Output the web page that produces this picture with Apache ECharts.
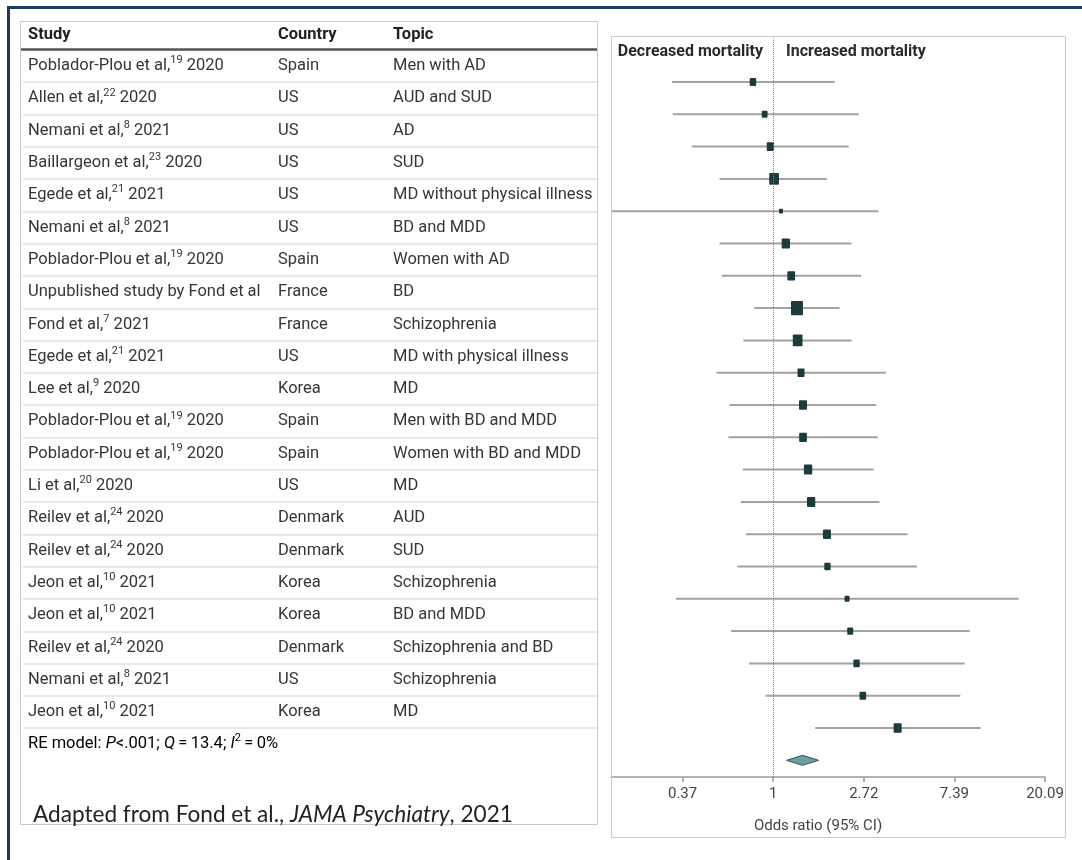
<!DOCTYPE html>
<html><head><meta charset="utf-8">
<script src="https://cdn.jsdelivr.net/npm/echarts@6/dist/echarts.min.js"></script>
<style>html,body{margin:0;padding:0;background:#fff}#c{width:1082px;height:860px}</style>
</head><body><div id="c"></div>
<script>
// ---------------- data ----------------
const studyAuthors = ['Poblador-Plou et al,', 'Allen et al,', 'Nemani et al,', 'Baillargeon et al,', 'Egede et al,', 'Nemani et al,', 'Poblador-Plou et al,', 'Unpublished study by Fond et al', 'Fond et al,', 'Egede et al,', 'Lee et al,', 'Poblador-Plou et al,', 'Poblador-Plou et al,', 'Li et al,', 'Reilev et al,', 'Reilev et al,', 'Jeon et al,', 'Jeon et al,', 'Reilev et al,', 'Nemani et al,', 'Jeon et al,'];
const studyRefs = ['19', '22', '8', '23', '21', '8', '19', '', '7', '21', '9', '19', '19', '20', '24', '24', '10', '10', '24', '8', '10'];
const studyYears = ['2020', '2020', '2021', '2020', '2021', '2021', '2020', '', '2021', '2021', '2020', '2020', '2020', '2020', '2020', '2020', '2021', '2021', '2020', '2021', '2021'];
const countries = ['Spain', 'US', 'US', 'US', 'US', 'US', 'Spain', 'France', 'France', 'US', 'Korea', 'Spain', 'Spain', 'US', 'Denmark', 'Denmark', 'Korea', 'Korea', 'Denmark', 'US', 'Korea'];
const topics = ['Men with AD', 'AUD and SUD', 'AD', 'SUD', 'MD without physical illness', 'BD and MDD', 'Women with AD', 'BD', 'Schizophrenia', 'MD with physical illness', 'MD', 'Men with BD and MDD', 'Women with BD and MDD', 'MD', 'AUD', 'SUD', 'Schizophrenia', 'BD and MDD', 'Schizophrenia and BD', 'Schizophrenia', 'MD'];
const oddsRatio = [0.80, 0.91, 0.97, 1.01, 1.09, 1.15, 1.22, 1.30, 1.31, 1.36, 1.39, 1.39, 1.47, 1.52, 1.81, 1.82, 2.26, 2.34, 2.51, 2.69, 3.95];
const ciLower = [0.327, 0.330, 0.407, 0.553, 0.16, 0.553, 0.567, 0.81, 0.72, 0.535, 0.617, 0.61, 0.715, 0.70, 0.74, 0.674, 0.342, 0.629, 0.767, 0.92, 1.59];
const ciUpper = [1.97, 2.57, 2.30, 1.81, 3.20, 2.37, 2.64, 2.08, 2.38, 3.47, 3.12, 3.17, 3.03, 3.23, 4.41, 4.89, 15.0, 8.75, 8.28, 7.89, 9.85];
const weights = [6.2, 5.0, 7.9, 13.9, 2.4, 10.2, 8.8, 21.3, 13.9, 7.3, 9.5, 8.8, 10.2, 10.2, 9.5, 5.9, 3.7, 5.3, 5.9, 6.6, 9.5];
const pooledEstimate = [1.16, 1.38, 1.65]; // lower, OR, upper
const xTickLabels = ['0.37', '1', '2.72', '7.39', '20.09'];
const reModelText = 'RE model';

// ---------------- styling helpers ----------------
const TF = 'Roboto, "Liberation Sans", sans-serif';
const FS = 16.5;
const rowPitch = 32.3;
const tableTop = 66 - rowPitch / 2;
const nRows = studyAuthors.length;
const rowIdx = studyAuthors.map((_, i) => String(i));

const richBase = {
  a: { fontSize: FS, fontFamily: TF, color: '#363636', lineHeight: 22 },
  s: { fontSize: 11, fontFamily: TF, color: '#363636', lineHeight: 14, verticalAlign: 'top' },
  i: { fontSize: FS, fontFamily: TF, color: '#363636', lineHeight: 22, fontStyle: 'italic' }
};

function tableYAxis(gridIndex, formatter, margin, split) {
  return {
    type: 'category', gridIndex, data: rowIdx, inverse: true,
    axisLine: { show: false }, axisTick: { show: false },
    axisLabel: { inside: true, margin, interval: 0, formatter, rich: richBase, fontSize: FS, fontFamily: TF, color: '#363636' },
    splitLine: { show: split, interval: 0, lineStyle: { color: '#e1e1e1', width: 1.5 } }
  };
}

const forestData = oddsRatio.map((v, i) => [ciLower[i], ciUpper[i], v, i, weights[i]]);

const chart = echarts.init(document.getElementById('c'));
chart.setOption({
  backgroundColor: '#ffffff',
  animation: false,
  grid: [
    { left: 611, top: 36, width: 434, height: 741, outerBoundsMode: 'none' },
    { left: 23, top: tableTop, width: 575, height: rowPitch * nRows, outerBoundsMode: 'none' },
    { left: 278, top: tableTop, width: 110, height: rowPitch * nRows, outerBoundsMode: 'none' },
    { left: 393, top: tableTop, width: 200, height: rowPitch * nRows, outerBoundsMode: 'none' }
  ],
  xAxis: [
    {
      type: 'log', logBase: Math.E, gridIndex: 0, position: 'bottom',
      min: Math.exp(-1.79), max: Math.exp(3),
      axisLine: { onZero: false, lineStyle: { color: '#9a9a9a', width: 1.5 } },
      axisTick: { show: true, length: 5, lineStyle: { color: '#9a9a9a', width: 1.5 } },
      minorTick: { show: false }, splitLine: { show: false },
      axisLabel: {
        showMinLabel: false, margin: 10, fontSize: 15, fontFamily: TF, color: '#444',
        formatter: v => { const k = Math.round(Math.log(v)) + 1; return xTickLabels[k] || ''; }
      },
      name: 'Odds ratio (95% CI)', nameLocation: 'middle', nameGap: 42,
      nameTextStyle: { fontSize: 15, fontFamily: TF, color: '#444', padding: [0, 20, 0, 0] }
    },
    { type: 'value', gridIndex: 1, show: false },
    { type: 'value', gridIndex: 2, show: false },
    { type: 'value', gridIndex: 3, show: false }
  ],
  yAxis: [
    { type: 'value', gridIndex: 0, inverse: true, min: (36 - 82) / 32.3, max: (777 - 82) / 32.3, show: false },
    tableYAxis(1, (v, i) => '{a|' + studyAuthors[i] + '}' + (studyRefs[i] ? '{s|' + studyRefs[i] + '}' : '') + (studyYears[i] ? '{a| ' + studyYears[i] + '}' : ''), 5, true),
    tableYAxis(2, (v, i) => '{a|' + countries[i] + '}', 0, false),
    tableYAxis(3, (v, i) => '{a|' + topics[i] + '}', 0, false)
  ],
  series: [
    {
      type: 'custom', xAxisIndex: 0, yAxisIndex: 0, clip: true,
      encode: { x: [0, 1, 2], y: 3 },
      data: forestData,
      renderItem: (params, api) => {
        const y = api.value(3);
        const lo = api.coord([api.value(0), y]);
        const hi = api.coord([api.value(1), y]);
        const pt = api.coord([api.value(2), y]);
        const s = 2.6 * Math.sqrt(api.value(4));
        const h = s * 1.2;
        return {
          type: 'group', children: [
            { type: 'line', shape: { x1: lo[0], y1: lo[1], x2: hi[0], y2: hi[1] }, style: { stroke: '#a2a2a2', lineWidth: 2 } },
            { type: 'rect', shape: { x: pt[0] - s / 2, y: pt[1] - h / 2, width: s, height: h, r: 1 }, style: { fill: '#1d3a3c' } }
          ]
        };
      }
    },
    {
      type: 'custom', xAxisIndex: 0, yAxisIndex: 0, clip: true,
      encode: { x: [0, 1, 2], y: 3 },
      data: [[pooledEstimate[0], pooledEstimate[2], pooledEstimate[1], nRows]],
      renderItem: (params, api) => {
        const y = api.value(3);
        const l = api.coord([api.value(0), y]);
        const r = api.coord([api.value(1), y]);
        const c = api.coord([api.value(2), y]);
        return {
          type: 'polygon',
          shape: { points: [[l[0], l[1]], [c[0], c[1] - 5], [r[0], r[1]], [c[0], c[1] + 5]] },
          style: { fill: '#6d9fa1', stroke: '#2f5052', lineWidth: 1 }
        };
      }
    },
    {
      type: 'line', xAxisIndex: 0, yAxisIndex: 0, data: [], silent: true,
      markLine: {
        symbol: 'none', silent: true, animation: false,
        label: { show: false },
        lineStyle: { type: 'dotted', color: '#8a8a8a', width: 1 },
        data: [{ xAxis: 1 }]
      }
    }
  ],
  graphic: { elements: [
    { type: 'line', shape: { x1: 7, y1: 7.5, x2: 1082, y2: 7.5 }, style: { stroke: '#1c3c68', lineWidth: 3 }, z: 100 },
    { type: 'line', shape: { x1: 8.5, y1: 6, x2: 8.5, y2: 860 }, style: { stroke: '#1c3c68', lineWidth: 3 }, z: 100 },
    { type: 'rect', shape: { x: 20.5, y: 21.5, width: 577, height: 803 }, style: { fill: 'none', stroke: '#c9c9c9', lineWidth: 1 }, z: 100 },
    { type: 'rect', shape: { x: 611.5, y: 36.5, width: 454, height: 801 }, style: { fill: 'none', stroke: '#c9c9c9', lineWidth: 1 }, z: 100 },
    { type: 'line', shape: { x1: 21, y1: 49.5, x2: 597, y2: 49.5 }, style: { stroke: '#555', lineWidth: 2.5 }, z: 100 },
    { type: 'text', x: 28, y: 35, z: 100, style: { text: 'Study', fontSize: FS, fontWeight: 'bold', fontFamily: TF, fill: '#222', verticalAlign: 'middle' } },
    { type: 'text', x: 278, y: 35, z: 100, style: { text: 'Country', fontSize: FS, fontWeight: 'bold', fontFamily: TF, fill: '#222', verticalAlign: 'middle' } },
    { type: 'text', x: 393, y: 35, z: 100, style: { text: 'Topic', fontSize: FS, fontWeight: 'bold', fontFamily: TF, fill: '#222', verticalAlign: 'middle' } },
    { type: 'text', x: 763, y: 52, z: 100, style: { text: 'Decreased mortality', fontSize: 16, fontWeight: 'bold', fontFamily: TF, fill: '#2a2a2a', align: 'right', verticalAlign: 'middle' } },
    { type: 'text', x: 786, y: 52, z: 100, style: { text: 'Increased mortality', fontSize: 16, fontWeight: 'bold', fontFamily: TF, fill: '#2a2a2a', align: 'left', verticalAlign: 'middle' } },
    { type: 'text', x: 28, y: 744, z: 100, style: {
      text: '{a|' + reModelText + ': }{i|P}{a|<.001; }{i|Q}{a|\u2009=\u200913.4; }{i|I}{s|2}{a|\u2009=\u20090%}',
      rich: richBase, verticalAlign: 'middle' } },
    { type: 'text', x: 33, y: 815, z: 100, style: {
      text: '{n|Adapted from Fond et al., }{it|JAMA Psychiatry}{n|, 2021}',
      rich: {
        n: { fontSize: 22.6, fontFamily: 'Lato, "Open Sans", sans-serif', fill: '#222', color: '#222' },
        it: { fontSize: 22.6, fontFamily: 'Lato, "Open Sans", sans-serif', fontStyle: 'italic', fill: '#222', color: '#222' }
      }, verticalAlign: 'middle' } }
  ] }
});
</script></body></html>
